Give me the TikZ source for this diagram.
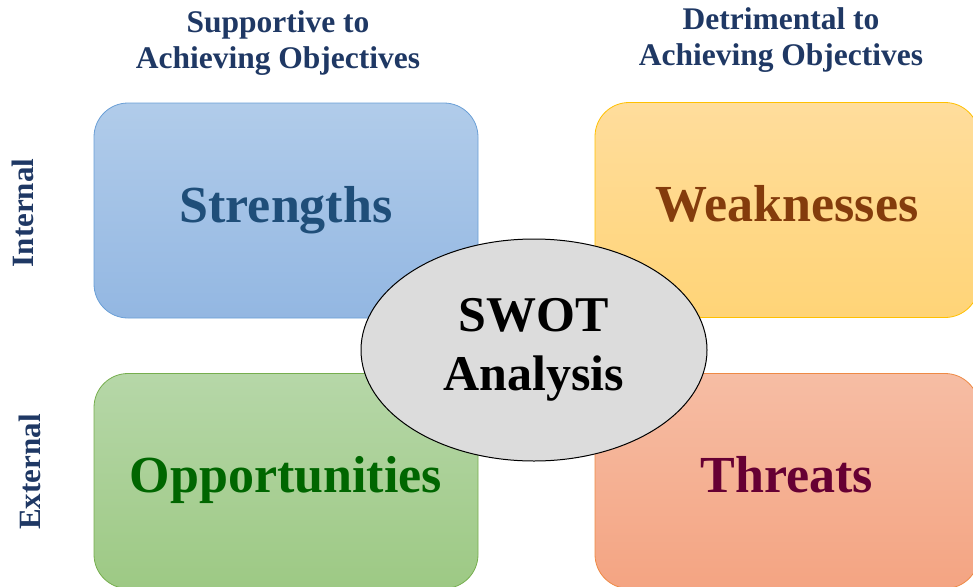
\documentclass[tikz,border=0pt]{standalone}
\usepackage{fontspec}
\setmainfont{Liberation Serif}
\usetikzlibrary{shapes.geometric}

\definecolor{headnavy}{HTML}{1F3864}
\definecolor{strtext}{HTML}{1F4E79}
\definecolor{weaktext}{HTML}{843C0C}
\definecolor{opptext}{HTML}{006600}
\definecolor{thrtext}{HTML}{660033}
\definecolor{swotgray}{HTML}{DCDCDC}

\begin{document}
\begin{tikzpicture}[x=1pt, y=-1pt,
  quad/.style={rounded corners=34pt, line width=0.8pt, minimum width=384pt,
    minimum height=215pt, inner sep=0pt, text height=34pt, text depth=11pt,
    font=\fontsize{52}{60}\selectfont\bfseries},
  head/.style={text=headnavy, align=center, font=\fontsize{31.5}{36}\selectfont\bfseries},
  side/.style={text=headnavy, rotate=90, font=\fontsize{31}{36}\selectfont\bfseries}]
  \useasboundingbox (0,0) rectangle (973,586);
  \clip (0,0) rectangle (973,586);

  % column and row headings
  \node[head] (supp) at (278,43) {Supportive to\\Achieving Objectives};
  \node[head] (detr) at (781,40) {Detrimental to\\Achieving Objectives};
  \node[side] (intern) at (23,213) {Internal};
  \node[side] (extern) at (30,472) {External};

  % the four quadrants
  \node[quad, draw={rgb,255:red,106;green,159;blue,214}, top color={rgb,255:red,177;green,204;blue,234},
    bottom color={rgb,255:red,147;green,183;blue,226}, text=strtext] (str) at (286,210.5) {Strengths};
  \node[quad, draw={rgb,255:red,255;green,192;blue,0}, top color={rgb,255:red,255;green,221;blue,156},
    bottom color={rgb,255:red,255;green,212;blue,119}, text=weaktext] (weak) at (787,210) {Weaknesses};
  \node[quad, draw={rgb,255:red,118;green,174;blue,78}, top color={rgb,255:red,182;green,215;blue,168},
    bottom color={rgb,255:red,157;green,201;blue,132}, text=opptext] (opp) at (286,481) {Opportunities};
  \node[quad, draw={rgb,255:red,238;green,138;blue,69}, top color={rgb,255:red,246;green,189;blue,164},
    bottom color={rgb,255:red,244;green,164;blue,130}, text=thrtext] (thr) at (787,481) {Threats};

  % centre ellipse
  \node[ellipse, draw, line width=1pt, fill=swotgray, minimum width=346pt, minimum height=222pt,
    inner sep=0pt, align=center, font=\fontsize{50}{59}\selectfont\bfseries] (swot) at (534,350) {SWOT\\Analysis};
\end{tikzpicture}
\end{document}
